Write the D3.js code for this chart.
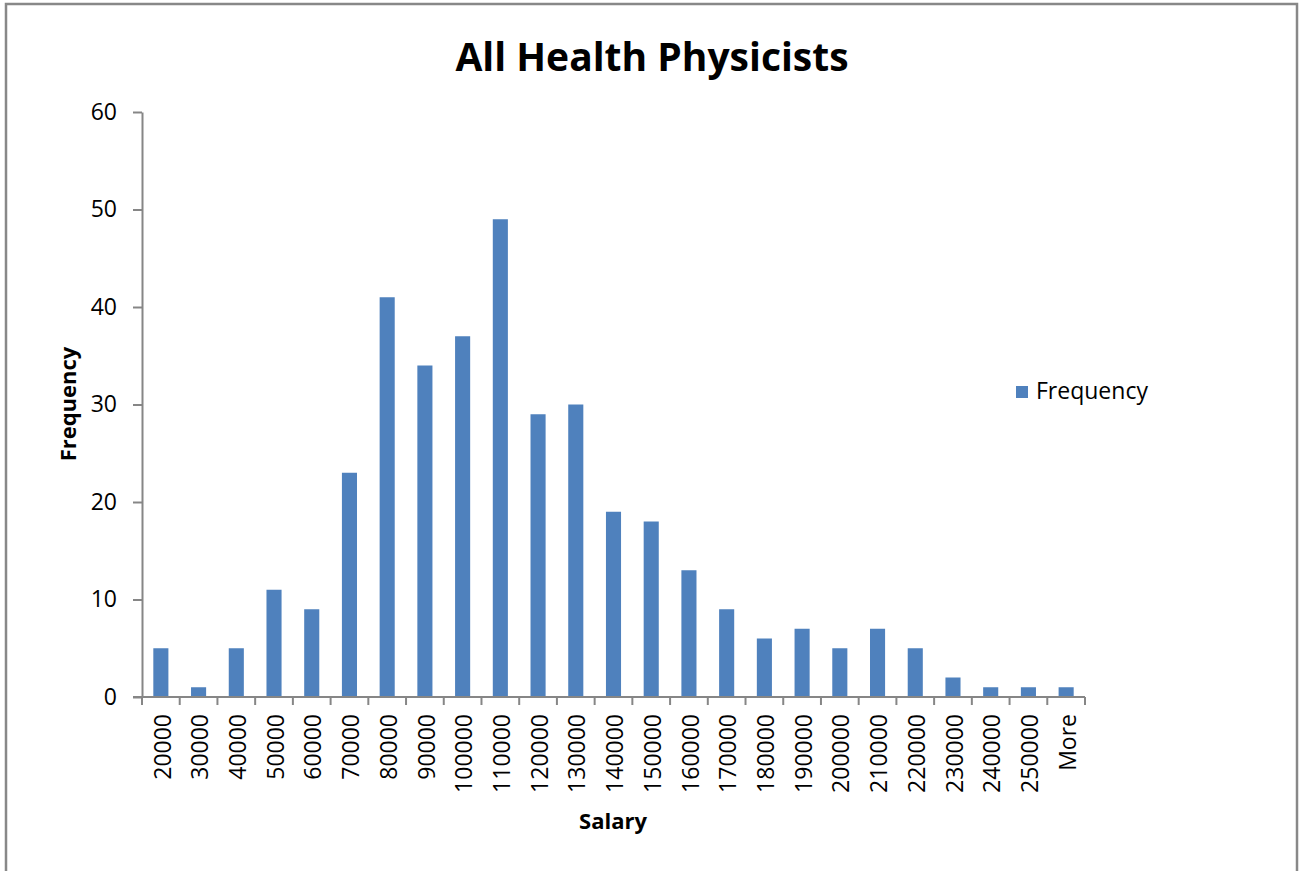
<!DOCTYPE html>
<html><head><meta charset="utf-8">
<script src="https://cdn.jsdelivr.net/npm/d3@7/dist/d3.min.js"></script>
<style>body{margin:0;background:#fff;}svg{display:block;}</style>
</head><body>
<script>
const categories = ["20000","30000","40000","50000","60000","70000","80000","90000","100000","110000","120000","130000","140000","150000","160000","170000","180000","190000","200000","210000","220000","230000","240000","250000","More"];
const frequency = [5,1,5,11,9,23,41,34,37,49,29,30,19,18,13,9,6,7,5,7,5,2,1,1,1];
const yTicks = [0,10,20,30,40,50,60];

const W = 1305, H = 871;
const font = "'Open Sans', 'Noto Sans', sans-serif";
const svg = d3.select("body").append("svg").attr("width", W).attr("height", H);

svg.append("rect").attr("x",6).attr("y",4).attr("width",1291).attr("height",900)
  .attr("fill","#fff").attr("stroke","#888").attr("stroke-width",2.5);

const pLeft = 142, pRight = 1085, pTop = 112, pBottom = 697;
const xb = d3.scaleBand().domain(categories).range([pLeft, pRight]);
const y = d3.scaleLinear().domain([0,60]).range([pBottom, pTop]);

svg.append("text").attr("x",652).attr("y",71).attr("text-anchor","middle")
  .attr("font-family",font).attr("font-weight","bold").attr("font-size",39).attr("fill","#000")
  .text("All Health Physicists");

// bars
svg.append("g").selectAll("rect").data(frequency).join("rect")
  .attr("x",(d,i)=>xb(categories[i]) + xb.bandwidth()*0.3)
  .attr("width", xb.bandwidth()*0.4)
  .attr("y", d=>y(d)).attr("height", d=>pBottom - y(d))
  .attr("fill","#4f81bd");

// y axis
const ya = svg.append("g").attr("transform",`translate(${pLeft},0)`)
  .call(d3.axisLeft(y).tickValues(yTicks).tickSize(9).tickPadding(16).tickSizeOuter(0));
ya.select(".domain").attr("stroke","#868686").attr("stroke-width",2);
ya.selectAll(".tick line").attr("stroke","#868686").attr("stroke-width",2);
ya.selectAll(".tick text").attr("font-family",font).attr("font-size",23).attr("fill","#000");

// x axis
const xa = svg.append("g").attr("transform",`translate(0,${pBottom})`);
xa.append("line").attr("x1",pLeft-9).attr("x2",pRight).attr("y1",0).attr("y2",0)
  .attr("stroke","#868686").attr("stroke-width",2);
const bounds = categories.map(c=>xb(c)).concat([pRight]);
xa.selectAll("line.t").data(bounds).join("line").attr("class","t")
  .attr("x1",d=>d).attr("x2",d=>d).attr("y1",0).attr("y2",8)
  .attr("stroke","#868686").attr("stroke-width",2);
xa.selectAll("text").data(categories).join("text")
  .attr("transform",d=>`translate(${xb(d)+xb.bandwidth()/2},17) rotate(-90)`)
  .attr("text-anchor","end").attr("dy","0.42em")
  .attr("font-family",font).attr("font-size",23).attr("fill","#000")
  .text(d=>d);

// axis titles
svg.append("text").attr("transform","translate(76,404) rotate(-90)").attr("text-anchor","middle")
  .attr("font-family",font).attr("font-weight","bold").attr("font-size",22).text("Frequency");
svg.append("text").attr("x",613).attr("y",829).attr("text-anchor","middle")
  .attr("font-family",font).attr("font-weight","bold").attr("font-size",22).text("Salary");

// legend
const lg = svg.append("g");
lg.append("rect").attr("x",1016).attr("y",386).attr("width",12).attr("height",12).attr("fill","#4f81bd");
lg.append("text").attr("x",1036).attr("y",399).attr("font-family",font).attr("font-size",23).text("Frequency");
</script>
</body></html>
